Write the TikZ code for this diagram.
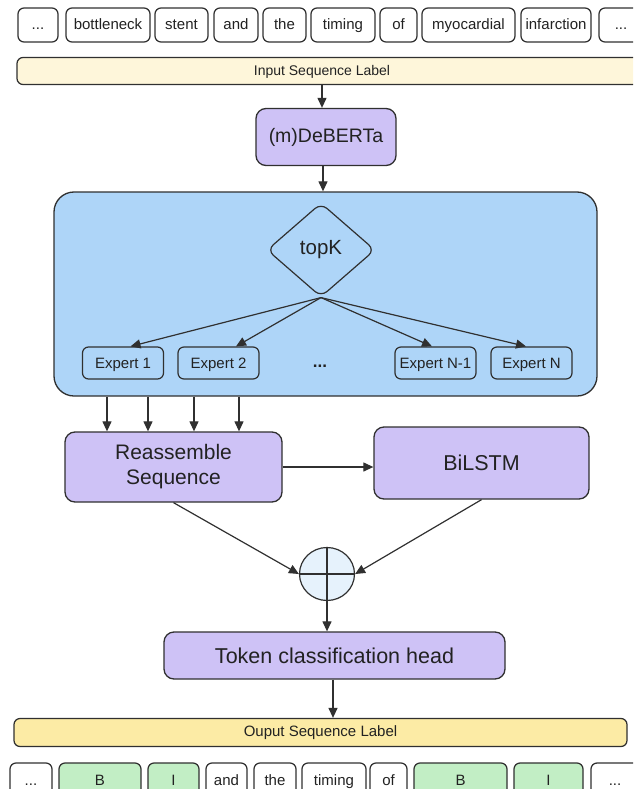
\documentclass[tikz,border=0pt]{standalone}
\usepackage{fontspec}
\setmainfont{Liberation Sans}
\usetikzlibrary{arrows.meta,shapes.geometric}

\definecolor{edge}{HTML}{303030}
\definecolor{txt}{HTML}{222222}
\definecolor{inyellow}{HTML}{FEF6DA}
\definecolor{outyellow}{HTML}{FCEBA5}
\definecolor{blockpurple}{HTML}{CEC2F6}
\definecolor{moeblue}{HTML}{AED5F8}
\definecolor{sumblue}{HTML}{E6F2FC}
\definecolor{taggreen}{HTML}{C2EEC5}

\newcommand{\fs}[1]{\fontsize{#1}{#1}\selectfont}

\tikzset{
  tok/.style={draw=edge, line width=1.25pt, rounded corners=6pt, fill=white,
              inner sep=0pt, minimum height=34pt, font=\fs{15}, text=txt,
              text height=12pt, text depth=2pt},
  tag/.style={tok, fill=taggreen},
  seqbar/.style={draw=edge, line width=1.25pt, rounded corners=6pt, inner sep=0pt,
                 minimum height=27pt},
  block/.style={draw=edge, line width=1.3pt, rounded corners=10pt, fill=blockpurple,
                inner sep=0pt, align=center, text=txt},
  expert/.style={draw=edge, line width=1.2pt, rounded corners=6pt, fill=moeblue,
                 minimum width=81pt, minimum height=32pt, inner sep=0pt,
                 font=\fs{15}, text=txt, text height=12pt, text depth=2pt},
  arr/.style={draw=edge, line width=1.2pt, -{Triangle[length=10pt,width=9pt]}},
  link/.style={draw=edge, line width=1.2pt},
}

\begin{document}
\begin{tikzpicture}[x=1pt,y=-1pt]
\useasboundingbox (0,0) rectangle (633,789);
\clip (0,0) rectangle (633,789);

% input tokens
\node[tok, minimum width=40pt] (i0) at (38,25) {...};
\node[tok, minimum width=84pt] (i1) at (108,25) {bottleneck};
\node[tok, minimum width=53pt] (i2) at (181.5,25) {stent};
\node[tok, minimum width=44pt] (i3) at (236,25) {and};
\node[tok, minimum width=43pt] (i4) at (284.5,25) {the};
\node[tok, minimum width=64pt] (i5) at (343,25) {timing};
\node[tok, minimum width=37pt] (i6) at (398.5,25) {of};
\node[tok, minimum width=93pt] (i7) at (468.5,25) {myocardial};
\node[tok, minimum width=70pt] (i8) at (556,25) {infarction};
\node[tok, minimum width=44pt] (i9) at (621,25) {...};

% input label bar
\node[seqbar, fill=inyellow, minimum width=626pt] (inbar) at (330,71) {};
\node[font=\fs{14}, text=txt] (intext) at (322,72) {Input Sequence Label};

% encoder
\node[block, minimum width=140pt, minimum height=57pt, font=\fs{19.5}] (deberta) at (326,137) {(m)DeBERTa};

% mixture-of-experts container
\node[draw=edge, line width=1.3pt, rounded corners=20pt, fill=moeblue, inner sep=0pt,
      minimum width=543pt, minimum height=204pt] (moe) at (325.5,294) {};
\node[diamond, draw=edge, line width=1.2pt, rounded corners=8pt, fill=moeblue, inner sep=0pt,
      minimum width=108pt, minimum height=94pt, aspect=1.15, font=\fs{20.5}, text=txt] (topk) at (321,250) {topK};

\node[expert] (e1) at (123,363) {Expert 1};
\node[expert] (e2) at (218.5,363) {Expert 2};
\node[font=\bfseries\fs{17}, text=txt] (edots) at (320,366) {...};
\node[expert] (en1) at (435.5,363) {Expert N-1};
\node[expert] (en) at (531.5,363) {Expert N};

% downstream blocks
\node[block, minimum width=217pt, minimum height=70pt, font=\fs{21}] (reas) at (173.5,467) {Reassemble\\[4pt]Sequence};
\node[block, minimum width=215pt, minimum height=72pt, font=\fs{21.5}] (bilstm) at (481.5,463) {BiLSTM};
\node[ellipse, draw=edge, line width=1.2pt, fill=sumblue, inner sep=0pt,
      minimum width=55pt, minimum height=53pt] (sum) at (327,574) {};
\node[block, minimum width=341pt, minimum height=47pt, font=\fs{21.5}] (head) at (334.5,655.5) {Token classification head};

% output label bar
\node[seqbar, fill=outyellow, minimum width=613pt, minimum height=28pt, font=\fs{15}, text=txt] (outbar) at (320.5,732.5) {Ouput Sequence Label};

% output tokens
\node[tok, minimum width=42pt] (o0) at (31,780) {...};
\node[tag, minimum width=82pt] (o1) at (100,780) {B};
\node[tag, minimum width=51pt] (o2) at (173.5,780) {I};
\node[tok, minimum width=41pt] (o3) at (226.5,780) {and};
\node[tok, minimum width=42pt] (o4) at (275,780) {the};
\node[tok, minimum width=64pt] (o5) at (334,780) {timing};
\node[tok, minimum width=37pt] (o6) at (388.5,780) {of};
\node[tag, minimum width=93pt] (o7) at (460.5,780) {B};
\node[tag, minimum width=69pt] (o8) at (548.5,780) {I};
\node[tok, minimum width=48pt] (o9) at (615,780) {...};

% connectors
\draw[arr] ([xshift=-4pt]deberta.north |- inbar.south) -- ([xshift=-4pt]deberta.north);
\draw[arr] ([xshift=-3pt]deberta.south) -- ([xshift=-3pt]deberta.south |- moe.north);

\draw[arr] (topk.south) -- ([xshift=7.5pt]e1.north);
\draw[arr] (topk.south) -- ([xshift=17.5pt]e2.north);
\draw[arr] (topk.south) -- ([xshift=-3.5pt]en1.north);
\draw[arr] (topk.south) -- ([xshift=-5.5pt]en.north);

\foreach \x in {107,148,194,239}
  \draw[arr] (moe.south -| \x,0) -- (reas.north -| \x,0);

\draw[arr] (reas.east) -- (reas.east -| bilstm.west);
\draw[arr] (reas.south) -- (sum.west);
\draw[arr] (bilstm.south) -- (sum.east);
\draw[link] (sum.north) -- (sum.south);
\draw[link] (sum.west) -- (sum.east);
\draw[arr] (sum.south) -- (sum.south |- head.north);
\draw[arr] ([xshift=-1.5pt]head.south) -- ([xshift=-1.5pt]head.south |- outbar.north);
\end{tikzpicture}
\end{document}
